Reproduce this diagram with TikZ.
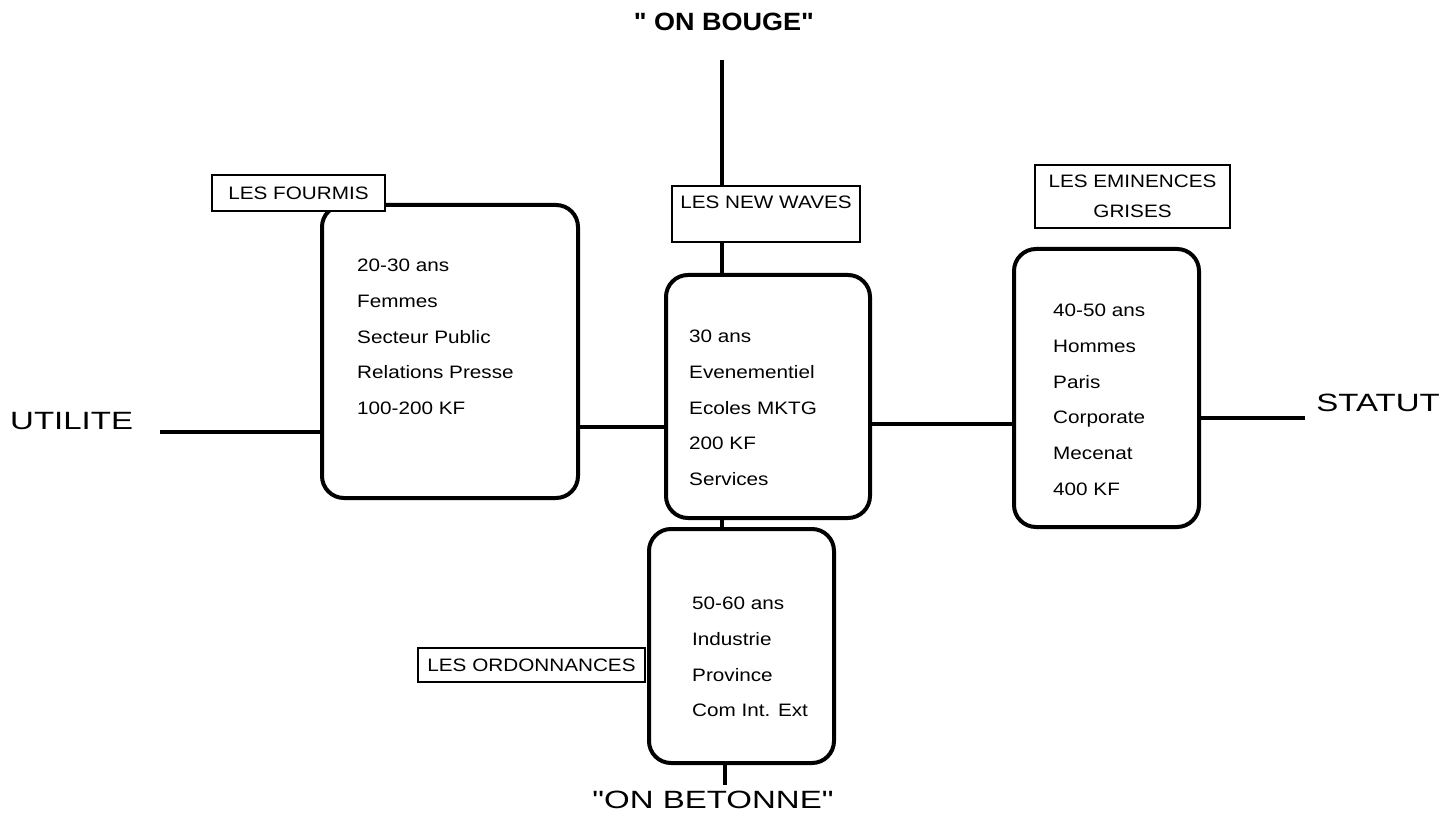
\documentclass[tikz,border=0pt]{standalone}
\usepackage{fontspec}
\setmainfont{Liberation Sans}
\newfontfamily\boitefont[FakeStretch=1.15]{Liberation Sans}
\newfontfamily\axefont[FakeStretch=1.32]{Liberation Sans}
\newfontfamily\bougefont[FakeStretch=1.08]{Liberation Sans}

\tikzset{
  profil/.style={draw, line width=4pt, rounded corners=22pt, fill=white, inner sep=0pt},
  contenu/.style={anchor=north west, inner sep=0pt, align=left,
    font=\boitefont\fontsize{18}{35.7}\selectfont},
  etiquette/.style={draw, line width=1.2pt, fill=white, inner sep=0pt,
    font=\boitefont\fontsize{18}{30}\selectfont},
  axe/.style={line width=4pt},
  pole/.style={inner sep=0pt, font=\axefont\fontsize{25}{30}\selectfont},
}

\begin{document}
\begin{tikzpicture}[x=1pt, y=-1pt]
\useasboundingbox (0,0) rectangle (1449,826);

% les quatre profils
\node[profil, minimum width=256pt, minimum height=293pt] (fourmis) at (450,351.5) {};
\node[profil, minimum width=204pt, minimum height=243pt] (vagues) at (768,396.5) {};
\node[profil, minimum width=185pt, minimum height=278pt] (eminences) at (1106.5,388) {};
\node[profil, minimum width=185pt, minimum height=234pt] (ordo) at (741.5,646) {};

\node[contenu] (fourmis-txt) at (357,259) {20-30 ans\\Femmes\\Secteur Public\\Relations Presse\\100-200 KF};
\node[contenu] (vagues-txt) at (689,330) {30 ans\\Evenementiel\\Ecoles MKTG\\200 KF\\Services};
\node[contenu] (eminences-txt) at (1053,304) {40-50 ans\\Hommes\\Paris\\Corporate\\Mecenat\\400 KF};
\node[contenu] (ordo-txt) at (692,597) {50-60 ans\\Industrie\\Province\\Com Int. Ext};

% axes
\coordinate (haut) at (722,60);
\coordinate (bas) at (725,785);
\coordinate (gauche) at (160,432);
\coordinate (droite) at (1305,418);
\draw[axe] (gauche) -- (fourmis.west |- gauche);
\draw[axe] (fourmis.east |- 0,427) -- (vagues.west |- 0,427);
\draw[axe] (vagues.east |- 0,424) -- (eminences.west |- 0,424);
\draw[axe] (eminences.east |- droite) -- (droite);
\draw[axe] (haut) -- (haut |- vagues.north);
\draw[axe] (haut |- vagues.south) -- (haut |- ordo.north);
\draw[axe] (bas |- ordo.south) -- (bas);

\node[pole, anchor=base west] (utilite) at (10,429) {UTILITE};
\node[pole, anchor=base east] (statut) at (1440,411) {STATUT};
\node[pole, anchor=base] (betonne) at (713,808) {"ON BETONNE"};
\node[inner sep=0pt, anchor=base, font=\bougefont\bfseries\fontsize{25}{30}\selectfont] (bouge) at (724,31) {" ON BOUGE"};

% etiquettes
\node[etiquette, minimum width=173pt, minimum height=36pt] (l-fourmis) at (298.5,193) {LES FOURMIS};
\node[etiquette, minimum width=188pt, text height=23pt, text depth=33pt] (l-vagues) at (766,214) {LES NEW WAVES};
\node[etiquette, minimum width=195pt, minimum height=63pt, align=center] (l-eminences) at (1132.5,196.5) {LES EMINENCES\\GRISES};
\node[etiquette, minimum width=227pt, minimum height=34pt] (l-ordo) at (531.5,665) {LES ORDONNANCES};
\end{tikzpicture}
\end{document}
